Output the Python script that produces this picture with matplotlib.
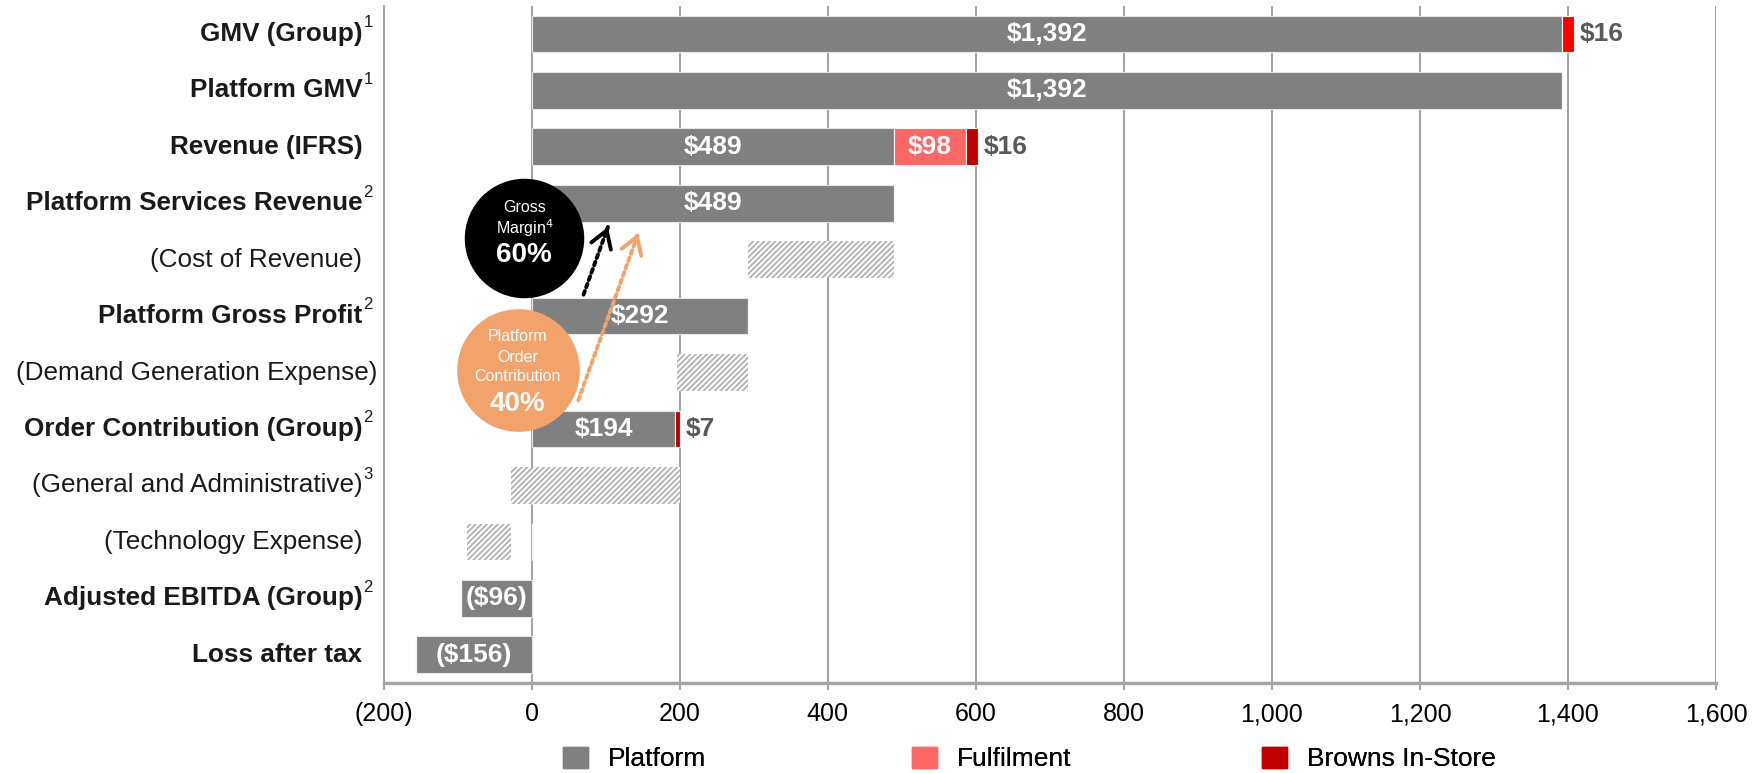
import numpy as np
import matplotlib.pyplot as plt
from matplotlib.patches import Patch

plt.rcParams['font.family'] = ['Liberation Sans', 'DejaVu Sans']
plt.rcParams['hatch.linewidth'] = 1.3

# rows, top to bottom
categories = ["GMV (Group)", "Platform GMV", "Revenue (IFRS)", "Platform Services Revenue",
              "(Cost of Revenue)", "Platform Gross Profit", "(Demand Generation Expense)",
              "Order Contribution (Group)", "(General and Administrative)", "(Technology Expense)",
              "Adjusted EBITDA (Group)", "Loss after tax"]
footnotes = ["1", "1", "", "2", "", "2", "", "2", "3", "", "2", ""]
bold_rows = [True, True, True, True, False, True, False, True, False, False, True, True]

platform = [1392, 1392, 489, 489, 0, 292, 0, 194, 0, 0, -96, -156]
platform_labels = ["$1,392", "$1,392", "$489", "$489", "", "$292", "", "$194", "", "", "($96)", "($156)"]
fulfilment = [0, 0, 98, 0, 0, 0, 0, 0, 0, 0, 0, 0]
fulfilment_labels = ["", "", "$98", "", "", "", "", "", "", "", "", ""]
browns = [16, 0, 16, 0, 0, 0, 0, 7, 0, 0, 0, 0]
browns_labels = ["$16", "", "$16", "", "", "", "", "$7", "", "", "", ""]
browns_colors = ["#FF0000", "#C00000", "#C00000", "#C00000", "#C00000", "#C00000",
                 "#C00000", "#C00000", "#C00000", "#C00000", "#C00000", "#C00000"]

# hatched expense bars (low, high)
expense_rows = [4, 6, 8, 9]
expense_low = [292, 196, -28, -88]
expense_high = [489, 292, 201, -28]

xticks = [-200, 0, 200, 400, 600, 800, 1000, 1200, 1400, 1600]
xtick_labels = ["(200)", "0", "200", "400", "600", "800", "1,000", "1,200", "1,400", "1,600"]

legend_names = ["Platform", "Fulfilment", "Browns In-Store"]

GRAY = "#808080"
FULFIL = "#FF6666"
BROWNS = "#C00000"
ORANGE = "#F2A26B"
GRID = "#A6A6A6"

fig = plt.figure(figsize=(17.64, 7.73), dpi=100)
ax = fig.add_axes([0.2175, 0.1164, 0.7553, 0.8763])

rows = np.arange(len(categories))
platform = np.array(platform)
fulfilment = np.array(fulfilment)
browns = np.array(browns)
h = 0.65

ax.barh(rows, platform, height=h, color=GRAY, edgecolor="#e6e6e6", linewidth=0.8, zorder=2)
ax.barh(rows, fulfilment, left=platform, height=h, color=FULFIL, edgecolor="#f5f5f5", linewidth=0.8, zorder=2)
ax.barh(rows, browns, left=platform + fulfilment, height=h, color=browns_colors,
        edgecolor="#f5f5f5", linewidth=0.8, zorder=2)
ax.barh(expense_rows, np.array(expense_high) - np.array(expense_low), left=expense_low, height=h,
        color="white", edgecolor="#b0b0b0", hatch="//////", linewidth=0, zorder=2)

# value labels
for i in rows:
    if platform_labels[i]:
        ax.text(platform[i] / 2, i, platform_labels[i], ha="center", va="center",
                color="white", fontsize=19, fontweight="bold", zorder=5)
    if fulfilment_labels[i]:
        ax.text(platform[i] + fulfilment[i] / 2, i, fulfilment_labels[i], ha="center", va="center",
                color="white", fontsize=19, fontweight="bold", zorder=5)
    if browns_labels[i]:
        end = platform[i] + fulfilment[i] + browns[i]
        ax.annotate(browns_labels[i], xy=(end, i), xytext=(4, 0), textcoords="offset points",
                    ha="left", va="center", color="#595959", fontsize=19, fontweight="bold")

# row labels with footnote superscripts
ytr = ax.get_yaxis_transform()
for i, name in enumerate(categories):
    # the long demand generation label sits further right in the original
    xoff = -4.8 if name.startswith("(Demand") else -15.5
    ax.annotate(name, xy=(0, i), xycoords=ytr, xytext=(xoff, 0), textcoords="offset points",
                ha="right", va="center", fontsize=18.8, color="#1a1a1a",
                fontweight="bold" if bold_rows[i] else "normal")
    if footnotes[i]:
        ax.annotate(footnotes[i], xy=(0, i), xycoords=ytr, xytext=(-14.5, 8), textcoords="offset points",
                    ha="left", va="center", fontsize=12, color="#1a1a1a")

# margin bubbles
gm_xy = (-10, 3.61)
oc_xy = (-19, 5.96)
ax.scatter([gm_xy[0]], [gm_xy[1]], s=7400, color="black", zorder=6, linewidths=0)
ax.scatter([oc_xy[0]], [oc_xy[1]], s=7800, color=ORANGE, zorder=6, linewidths=0)
ax.annotate("Gross", xy=gm_xy, xytext=(0, 21.5), textcoords="offset points",
            ha="center", va="center", color="white", fontsize=11.5, zorder=7)
ax.annotate("Margin$^{4}$", xy=gm_xy, xytext=(0, 7), textcoords="offset points",
            ha="center", va="center", color="white", fontsize=11.5, zorder=7)
ax.annotate("60%", xy=gm_xy, xytext=(0, -12.5), textcoords="offset points",
            ha="center", va="center", color="white", fontsize=20, fontweight="bold", zorder=7)
for txt, dy in [("Platform", 24), ("Order", 9.5), ("Contribution", -4.5)]:
    ax.annotate(txt, xy=oc_xy, xytext=(0, dy), textcoords="offset points",
                ha="center", va="center", color="white", fontsize=11.5, zorder=7)
ax.annotate("40%", xy=oc_xy, xytext=(0, -24), textcoords="offset points",
            ha="center", va="center", color="white", fontsize=20, fontweight="bold", zorder=7)

# dotted arrows with solid open heads
arrows = [((70, 4.62), (103, 3.42), "black"), ((63, 6.49), (144, 3.53), ORANGE)]
for (x0, y0), (x1, y1), col in arrows:
    ax.annotate("", xy=(x1, y1), xytext=(x0, y0),
                arrowprops=dict(arrowstyle="-", color=col, lw=2.8, linestyle=(0, (1, 1)),
                                shrinkA=0, shrinkB=0), zorder=8)
    xa, ya = x1 - (x1 - x0) * 0.03, y1 - (y1 - y0) * 0.03
    ax.annotate("", xy=(x1, y1), xytext=(xa, ya),
                arrowprops=dict(arrowstyle="->,head_length=0.8,head_width=0.5", color=col, lw=2.8,
                                mutation_scale=15, shrinkA=0, shrinkB=0), zorder=8)

ax.set_xlim(-200, 1600)
ax.set_ylim(11.5, -0.5)
ax.set_xticks(xticks)
ax.set_xticklabels(xtick_labels, fontsize=18, color="black")
ax.set_yticks([])
ax.xaxis.grid(True, color=GRID, linewidth=1.5)
ax.set_axisbelow(True)
ax.tick_params(axis="x", direction="out", length=5, width=1.5, color=GRID, pad=9)
for s in ["top", "right"]:
    ax.spines[s].set_visible(False)
ax.spines["left"].set_color(GRID)
ax.spines["left"].set_linewidth(1.5)
ax.spines["bottom"].set_color(GRID)
ax.spines["bottom"].set_linewidth(2.5)

# legend: one entry per position so the spacing matches the original
legend_x = [563, 912, 1262]
for name, col, lx in zip(legend_names, [GRAY, FULFIL, BROWNS], legend_x):
    leg = fig.legend(handles=[Patch(color=col, label=name)], loc="center left",
                     bbox_to_anchor=(lx / 1764, 1 - 759 / 773), frameon=False, fontsize=19,
                     handlelength=0.95, handleheight=0.87, handletextpad=0.76,
                     borderpad=0, borderaxespad=0)
    fig.add_artist(leg)

fig.savefig("out.png", dpi=100)
